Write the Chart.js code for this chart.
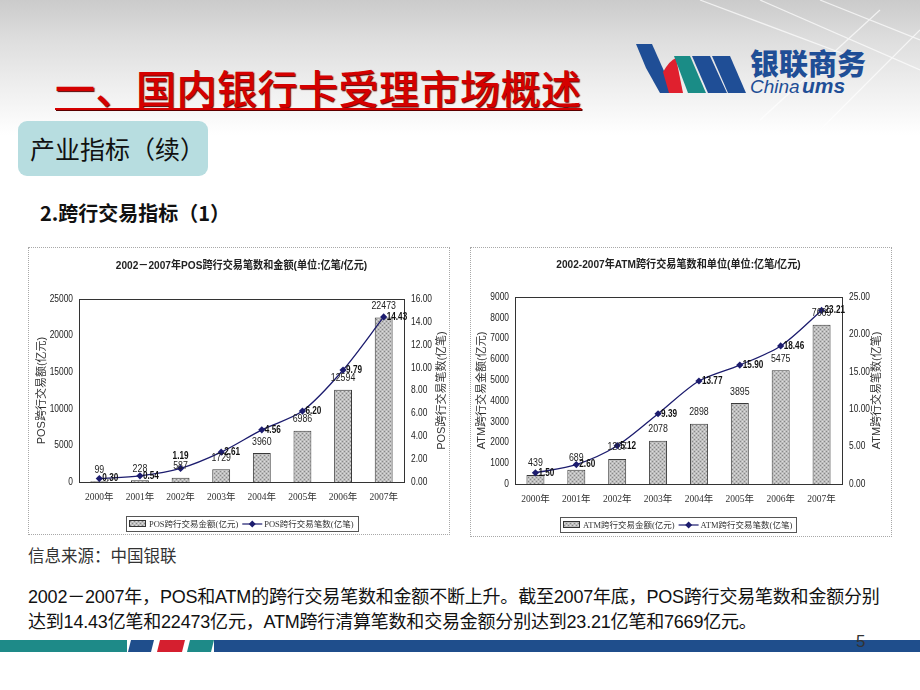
<!DOCTYPE html>
<html><head><meta charset="utf-8">
<script src="https://cdn.jsdelivr.net/npm/chart.js@4"></script>
<style>
html,body{margin:0;padding:0;}
body{width:920px;height:690px;position:relative;overflow:hidden;background:#fff;font-family:'Noto Sans CJK SC',sans-serif;}
.topbg{position:absolute;left:0;top:0;width:920px;height:135px;background:linear-gradient(#cbcbcb 0%,#dedede 30%,#efefef 65%,#ffffff 100%);}
.h1{position:absolute;left:55px;top:63px;font-size:40px;line-height:48px;color:#d40000;text-decoration:underline;text-decoration-thickness:2px;text-underline-offset:4px;text-shadow:1px 1px 1px #5a0000;letter-spacing:0.5px;white-space:nowrap;font-weight:500}
.sub{position:absolute;left:18px;top:121px;width:190px;height:55px;background:#b7dde0;border-radius:9px;}
.sub span{position:absolute;left:12px;top:10px;font-size:25px;line-height:34px;color:#111;white-space:nowrap}
.h2{position:absolute;left:40px;top:199px;font-size:20px;line-height:28px;font-weight:700;color:#111;white-space:nowrap}
.frame{position:absolute;border:1px dotted #a8a8a8;box-sizing:border-box;}
canvas{position:absolute;}
.src{position:absolute;left:28px;top:543px;font-size:16.5px;line-height:24px;color:#333;white-space:nowrap}
.para{position:absolute;left:28px;top:585px;font-size:18px;line-height:25px;color:#111;white-space:nowrap;font-family:'Liberation Sans','Noto Sans CJK SC',sans-serif;letter-spacing:-0.2px}
.pg{position:absolute;left:856px;top:632px;font-size:17px;line-height:20px;color:#333;font-family:'Liberation Sans',sans-serif}
</style></head>
<body>
<div class="topbg"></div>
<svg style="position:absolute;left:0;top:0" width="920" height="660">
  <g stroke="#ffffff" stroke-width="1.2" opacity="0.7" fill="none">
    <path d="M700 0 L860 60"/><path d="M760 0 L920 70"/><path d="M820 0 L920 40"/><path d="M880 10 L760 120"/><path d="M920 30 L820 130"/>
  </g>
  <!-- logo -->
  <path d="M636 44 L652 44 L668 80 L672 93 L660 93 L646 68 Z" fill="#1f4e96"/>
  <path d="M663 72 Q670 60 676 58 L683 93 L669 93 Z" fill="#e0202e"/>
  <path d="M674 56 L690 56 L706 93 L688 93 Z" fill="#1a8c86"/>
  <path d="M692 56 L710 56 L727 93 L708 93 Z" fill="#1f4e96"/>
  <path d="M712 56 L730 56 L746 93 L728 93 Z" fill="#1f4e96"/>
  <text x="750" y="75" font-family="Noto Sans CJK SC" font-weight="900" font-size="29" fill="#1f4e96">银联商务</text>
  <text x="750" y="93" font-family="Liberation Sans" font-style="italic" font-size="19" fill="#1f4e96">China</text>
  <text x="802" y="93" font-family="Liberation Sans" font-style="italic" font-weight="700" font-size="21" fill="#1f4e96">ums</text>
  <!-- bottom bar -->
  <rect x="0" y="640" width="127" height="12" fill="#1e8a88"/>
  <path d="M131 640 L154 640 L151 652 L128 652 Z" fill="#1f4e8c"/>
  <path d="M160 640 L185 640 L182 652 L157 652 Z" fill="#d51f2f"/>
  <path d="M190 640 L214 640 L211 652 L187 652 Z" fill="#1e8a88"/>
  <rect x="214" y="640" width="706" height="12" fill="#1f4e8c"/>
</svg>
<div class="h1">一、国内银行卡受理市场概述</div>
<div class="sub"><span>产业指标（续）</span></div>
<div class="h2">2.跨行交易指标（1）</div>
<div class="frame" style="left:28px;top:247px;width:422px;height:288px"></div>
<div class="frame" style="left:470px;top:247px;width:422px;height:290px"></div>
<canvas id="pos" width="421" height="287" style="left:28px;top:247px"></canvas>
<canvas id="atm" width="421" height="289" style="left:470px;top:247px"></canvas>
<div class="src">信息来源：中国银联</div>
<div class="para">2002－2007年，POS和ATM的跨行交易笔数和金额不断上升。截至2007年底，POS跨行交易笔数和金额分别<br>达到14.43亿笔和22473亿元，ATM跨行清算笔数和交易金额分别达到23.21亿笔和7669亿元。</div>
<div class="pg">5</div>
<script>
// ---- data ----
const years = ['2000年','2001年','2002年','2003年','2004年','2005年','2006年','2007年'];
const posAmount = [99, 228, 587, 1729, 3960, 6986, 12594, 22473];
const posCount = [0.30, 0.54, 1.19, 2.61, 4.56, 6.20, 9.79, 14.43];
const atmAmount = [439, 689, 1207, 2078, 2898, 3895, 5475, 7669];
const atmCount = [1.50, 2.60, 5.12, 9.39, 13.77, 15.90, 18.46, 23.21];
const posTitle = '2002－2007年POS跨行交易笔数和金额(单位:亿笔/亿元)';
const atmTitle = '2002-2007年ATM跨行交易笔数和单位(单位:亿笔/亿元)';
const posBarName = 'POS跨行交易金额(亿元)';
const posLineName = 'POS跨行交易笔数(亿笔)';
const atmBarName = 'ATM跨行交易金额(亿元)';
const atmLineName = 'ATM跨行交易笔数(亿笔)';
const posLeftAxisName = 'POS跨行交易额(亿元)';
const posRightAxisName = 'POS跨行交易笔数(亿笔)';
const atmLeftAxisName = 'ATM跨行交易金额(亿元)';
const atmRightAxisName = 'ATM跨行交易笔数(亿笔)';

const NAVY = '#1c1c6e';
const SANS = "'Liberation Sans',Arial,sans-serif";
const SERIF = "'Liberation Serif','Noto Sans CJK SC',serif";

function makePattern() {
  const c = document.createElement('canvas');
  c.width = 4; c.height = 4;
  const g = c.getContext('2d');
  g.fillStyle = '#bdbdbd'; g.fillRect(0,0,4,4);
  g.fillStyle = '#888888';
  g.fillRect(0,0,1,1); g.fillRect(2,2,1,1);
  g.fillStyle = '#dcdcdc';
  g.fillRect(2,0,1,1); g.fillRect(0,2,1,1);
  return g.createPattern(c, 'repeat');
}

// draw text horizontally condensed
function narrowText(ctx, text, x, y, sx) {
  ctx.save(); ctx.translate(x, y); ctx.scale(sx, 1); ctx.fillText(text, 0, 0); ctx.restore();
}

const decor = {
  id: 'decor',
  afterDatasetsDraw(chart) {
    const o = chart.options.plugins.decor;
    const ctx = chart.ctx, a = chart.chartArea;
    ctx.save();
    // plot border
    ctx.strokeStyle = '#333'; ctx.lineWidth = 1;
    ctx.strokeRect(Math.round(a.left)+0.5, Math.round(a.top)+0.5, Math.round(a.right-a.left), Math.round(a.bottom-a.top));
    // bar labels
    const barMeta = chart.getDatasetMeta(1);
    ctx.font = '11px ' + SANS; ctx.fillStyle = '#222';
    ctx.textAlign = 'center'; ctx.textBaseline = 'bottom';
    barMeta.data.forEach((el, i) => {
      narrowText(ctx, String(chart.data.datasets[1].data[i]), el.x, el.y - 6, 0.8);
    });
    // line labels
    const lineMeta = chart.getDatasetMeta(0);
    ctx.font = 'bold 10.5px ' + SANS; ctx.fillStyle = '#111';
    lineMeta.data.forEach((el, i) => {
      const v = chart.data.datasets[0].data[i].toFixed(2);
      if (o.aboveIdx.includes(i)) {
        ctx.textAlign = 'center'; ctx.textBaseline = 'middle';
        narrowText(ctx, v, el.x, el.y - 12, 0.78);
      } else {
        ctx.textAlign = 'left'; ctx.textBaseline = 'middle';
        narrowText(ctx, v, el.x + 3, el.y, 0.78);
      }
    });
    ctx.restore();
  },
  afterDraw(chart) {
    const o = chart.options.plugins.decor;
    const ctx = chart.ctx, a = chart.chartArea;
    const cx = (a.left + a.right) / 2, cy = (a.top + a.bottom) / 2;
    ctx.save();
    // y tick labels (condensed, taken from the scales)
    ctx.font = '10.5px ' + SANS; ctx.fillStyle = '#222'; ctx.textBaseline = 'middle';
    const ys = chart.scales.y, y1 = chart.scales.y1;
    ctx.textAlign = 'right';
    ys.ticks.forEach(t => narrowText(ctx, String(t.value), a.left - 6, ys.getPixelForValue(t.value), 0.8));
    ctx.textAlign = 'left';
    y1.ticks.forEach(t => narrowText(ctx, t.value.toFixed(2), a.right + 7, y1.getPixelForValue(t.value), 0.8));
    // title
    ctx.font = "bold 11px 'Liberation Sans','Noto Sans CJK SC',sans-serif";
    ctx.fillStyle = '#222'; ctx.textAlign = 'center'; ctx.textBaseline = 'middle';
    narrowText(ctx, o.title, cx, o.titleY, 0.92);
    // axis titles (both rotated counter-clockwise)
    ctx.font = "11px 'Liberation Sans','Noto Sans CJK SC',sans-serif";
    ctx.fillStyle = '#333';
    [[o.leftName, o.leftX], [o.rightName, o.rightX]].forEach(([t, x]) => {
      ctx.save(); ctx.translate(x, cy); ctx.rotate(-Math.PI/2);
      ctx.fillText(t, 0, 0); ctx.restore();
    });
    // legend
    ctx.font = '8.5px ' + SERIF;
    const w1 = ctx.measureText(o.barName).width, w2 = ctx.measureText(o.lineName).width;
    const total = 3 + 17 + 3 + w1 + 4 + 20 + 2 + w2 + 4;
    const lx = Math.round(cx - total/2), ly = o.legendY, lh = 15;
    ctx.strokeStyle = '#555'; ctx.lineWidth = 1;
    ctx.strokeRect(lx + 0.5, ly + 0.5, Math.round(total), lh);
    let x = lx + 3;
    ctx.fillStyle = o.pattern; ctx.fillRect(x, ly + 4, 17, 7);
    ctx.strokeStyle = '#333'; ctx.strokeRect(x + 0.5, ly + 4.5, 16, 6);
    x += 20;
    ctx.fillStyle = '#333'; ctx.textAlign = 'left'; ctx.textBaseline = 'middle';
    ctx.fillText(o.barName, x, ly + lh/2 + 1);
    x += w1 + 4;
    ctx.strokeStyle = NAVY; ctx.lineWidth = 1.2;
    ctx.beginPath(); ctx.moveTo(x, ly + lh/2 + 0.5); ctx.lineTo(x + 20, ly + lh/2 + 0.5); ctx.stroke();
    ctx.fillStyle = NAVY;
    ctx.beginPath();
    const dx = x + 10, dy = ly + lh/2 + 0.5;
    ctx.moveTo(dx, dy - 3.5); ctx.lineTo(dx + 3.5, dy); ctx.lineTo(dx, dy + 3.5); ctx.lineTo(dx - 3.5, dy); ctx.closePath(); ctx.fill();
    x += 22;
    ctx.fillStyle = '#333';
    ctx.fillText(o.lineName, x, ly + lh/2 + 1);
    ctx.restore();
  }
};

function buildChart(id, cfg) {
  const pattern = makePattern();
  return new Chart(document.getElementById(id), {
    data: {
      labels: years,
      datasets: [
        { type: 'line', label: cfg.lineName, data: cfg.count, yAxisID: 'y1',
          borderColor: NAVY, backgroundColor: NAVY, borderWidth: 1.3,
          pointStyle: 'rectRot', pointRadius: 3.6, pointBorderWidth: 0, tension: 0.3, order: 0 },
        { type: 'bar', label: cfg.barName, data: cfg.amount, yAxisID: 'y',
          backgroundColor: pattern, borderColor: '#3a3a3a', borderWidth: 1,
          barPercentage: 0.88, categoryPercentage: 0.5, order: 1 }
      ]
    },
    options: {
      responsive: false, animation: false, devicePixelRatio: 1,
      layout: { padding: { left: 0, right: 0, top: cfg.padTop, bottom: 30 } },
      plugins: {
        legend: { display: false }, tooltip: { enabled: false }, title: { display: false },
        decor: {
          title: cfg.title, titleY: cfg.titleY, legendY: cfg.legendY,
          leftName: cfg.leftName, rightName: cfg.rightName, leftX: cfg.leftX, rightX: cfg.rightX,
          barName: cfg.barName, lineName: cfg.lineName, pattern: pattern, aboveIdx: cfg.aboveIdx
        }
      },
      scales: {
        x: { grid: { display: false, drawTicks: false }, border: { display: false },
             ticks: { font: { size: 9.5, family: SERIF }, color: '#333', padding: 10, maxRotation: 0 },
             afterFit(s) { s.height = 22; } },
        y: { position: 'left', min: 0, max: cfg.leftMax,
             ticks: { stepSize: cfg.leftStep, display: false },
             grid: { display: false, drawTicks: false }, border: { display: false },
             afterFit(s) { s.width = cfg.leftW; } },
        y1: { position: 'right', min: 0, max: cfg.rightMax,
             ticks: { stepSize: cfg.rightStep, display: false },
             grid: { display: false, drawTicks: false }, border: { display: false },
             afterFit(s) { s.width = cfg.rightW; } }
      }
    },
    plugins: [decor]
  });
}

buildChart('pos', {
  amount: posAmount, count: posCount, title: posTitle,
  barName: posBarName, lineName: posLineName, leftName: posLeftAxisName, rightName: posRightAxisName,
  leftMax: 25000, leftStep: 5000, rightMax: 16, rightStep: 2,
  leftW: 51, rightW: 45, padTop: 52, titleY: 19, legendY: 269, leftX: 14, rightX: 414, aboveIdx: [2]
});
buildChart('atm', {
  amount: atmAmount, count: atmCount, title: atmTitle,
  barName: atmBarName, lineName: atmLineName, leftName: atmLeftAxisName, rightName: atmRightAxisName,
  leftMax: 9000, leftStep: 1000, rightMax: 25, rightStep: 5,
  leftW: 45, rightW: 49, padTop: 50, titleY: 18, legendY: 270, leftX: 12, rightX: 407, aboveIdx: []
});
</script>
</body></html>
